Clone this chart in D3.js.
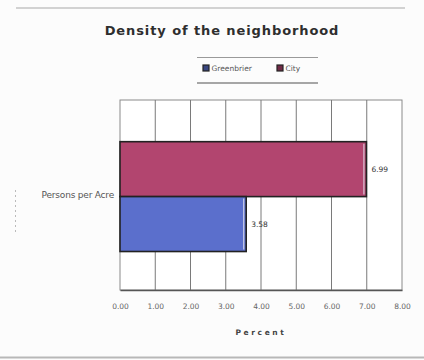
<!DOCTYPE html>
<html>
<head>
<meta charset="utf-8">
<script src="https://cdn.jsdelivr.net/npm/d3@7"></script>
<style>
  html, body { margin: 0; padding: 0; background: #fcfcfc; }
  svg { display: block; }
</style>
</head>
<body>
<div id="chart"></div>
<script>
// Chart data
const categories = ["Persons per Acre"];
const seriesNames = ["City", "Greenbrier"];          // drawn top to bottom
const seriesValues = { "City": [6.99], "Greenbrier": [3.58] };
const seriesColors = { "City": "#b2456f", "Greenbrier": "#5b6fcc" };
const legendOrder = ["Greenbrier", "City"];
const xTicks = [0, 1, 2, 3, 4, 5, 6, 7, 8];

const W = 424, H = 360;
const plot = { left: 120, right: 402, top: 100, bottom: 290 };

const svg = d3.select("#chart").append("svg")
  .attr("width", W).attr("height", H);

svg.append("rect").attr("width", W).attr("height", H).attr("fill", "#fcfcfc");

// Frame lines of the chart sheet
svg.append("line").attr("x1", 16).attr("x2", 405).attr("y1", 8).attr("y2", 8)
  .attr("stroke", "#c4c4c4").attr("stroke-width", 1.5);
svg.append("line").attr("x1", 0).attr("x2", W).attr("y1", 357.5).attr("y2", 357.5)
  .attr("stroke", "#b8b8b8").attr("stroke-width", 2);
svg.append("line").attr("x1", 15.5).attr("x2", 15.5).attr("y1", 190).attr("y2", 234)
  .attr("stroke", "#bbb").attr("stroke-dasharray", "2,3");

// Title
svg.append("text")
  .attr("x", 222).attr("y", 35)
  .attr("text-anchor", "middle")
  .attr("font-family", "DejaVu Sans, sans-serif")
  .attr("font-weight", "bold")
  .attr("font-size", 13)
  .attr("letter-spacing", 0.9)
  .attr("fill", "#2e2e2e")
  .text("Density of the neighborhood");

// Scales
const x = d3.scaleLinear().domain([0, 8]).range([plot.left, plot.right]);
const y0 = d3.scaleBand().domain(categories).range([plot.top, plot.bottom]);
const y1 = d3.scaleBand().domain(seriesNames)
  .range([0, y0.bandwidth()]).paddingInner(0).paddingOuter(0.73).align(0.52);

const g = svg.append("g");

// Plot background and grid
g.append("rect")
  .attr("x", plot.left).attr("y", plot.top)
  .attr("width", plot.right - plot.left).attr("height", plot.bottom - plot.top)
  .attr("fill", "#ffffff").attr("stroke", "#8a8a8a").attr("stroke-width", 1);

g.selectAll("line.grid").data(xTicks.slice(1, -1)).join("line")
  .attr("class", "grid")
  .attr("x1", d => x(d)).attr("x2", d => x(d))
  .attr("y1", plot.top).attr("y2", plot.bottom)
  .attr("stroke", "#7a7a7a").attr("stroke-width", 1);

// Bars
const rows = [];
categories.forEach((c, i) => seriesNames.forEach(s => rows.push({ cat: c, series: s, value: seriesValues[s][i] })));

const bars = g.selectAll("g.bar").data(rows).join("g").attr("class", "bar");
bars.append("rect")
  .attr("x", x(0))
  .attr("y", d => y0(d.cat) + y1(d.series))
  .attr("width", d => x(d.value) - x(0))
  .attr("height", y1.bandwidth())
  .attr("fill", d => seriesColors[d.series])
  .attr("stroke", "#222").attr("stroke-width", 1.6);
bars.append("line")
  .attr("x1", d => x(d.value) - 2.5).attr("x2", d => x(d.value) - 2.5)
  .attr("y1", d => y0(d.cat) + y1(d.series) + 2)
  .attr("y2", d => y0(d.cat) + y1(d.series) + y1.bandwidth() - 2)
  .attr("stroke", "#e6e6f0").attr("stroke-width", 1.2).attr("opacity", 0.8);

// Value labels
bars.append("text")
  .attr("x", d => x(d.value) + 5)
  .attr("y", d => y0(d.cat) + y1(d.series) + y1.bandwidth() / 2 + 3)
  .attr("font-family", "DejaVu Sans, sans-serif")
  .attr("font-size", 7.5)
  .attr("fill", "#333")
  .text(d => d.value.toFixed(2));

// Category label
svg.selectAll("text.cat").data(categories).join("text")
  .attr("class", "cat")
  .attr("x", plot.left - 6)
  .attr("y", d => y0(d) + y0.bandwidth() / 2 + 3)
  .attr("text-anchor", "end")
  .attr("font-family", "DejaVu Sans, sans-serif")
  .attr("font-size", 9)
  .attr("letter-spacing", -0.2)
  .attr("fill", "#555")
  .text(d => d);

// X axis
const xAxis = d3.axisBottom(x).tickValues(xTicks).tickSize(0).tickPadding(14)
  .tickFormat(d3.format(".2f"));
const ax = svg.append("g").attr("transform", `translate(0,${plot.bottom})`).call(xAxis);
ax.select(".domain").attr("stroke", "#555").attr("stroke-width", 1.4);
ax.selectAll("text")
  .attr("font-family", "DejaVu Sans, sans-serif")
  .attr("font-size", 7.5)
  .attr("fill", "#666");

svg.append("text")
  .attr("x", (plot.left + plot.right) / 2)
  .attr("y", 335)
  .attr("text-anchor", "middle")
  .attr("font-family", "DejaVu Sans, sans-serif")
  .attr("font-size", 7.5)
  .attr("font-weight", "bold")
  .attr("letter-spacing", 2.6)
  .attr("fill", "#444")
  .text("Percent");

// Legend
const legend = svg.append("g");
legend.append("line").attr("x1", 197).attr("x2", 318).attr("y1", 57.5).attr("y2", 57.5)
  .attr("stroke", "#9a9a9a");
legend.append("line").attr("x1", 197).attr("x2", 318).attr("y1", 83).attr("y2", 83)
  .attr("stroke", "#8a8a8a").attr("stroke-width", 1.4);
const legendX = [203, 277];
const items = legend.selectAll("g.item").data(legendOrder).join("g")
  .attr("class", "item")
  .attr("transform", (d, i) => `translate(${legendX[i]},65)`);
items.append("rect")
  .attr("width", 6).attr("height", 6)
  .attr("fill", d => d3.color(seriesColors[d]).darker(1.3))
  .attr("stroke", "#222").attr("stroke-width", 1.2);
items.append("text")
  .attr("x", 8.5).attr("y", 6)
  .attr("font-family", "DejaVu Sans, sans-serif")
  .attr("font-size", 7.5)
  .attr("fill", "#555")
  .text(d => d);
</script>
</body>
</html>
